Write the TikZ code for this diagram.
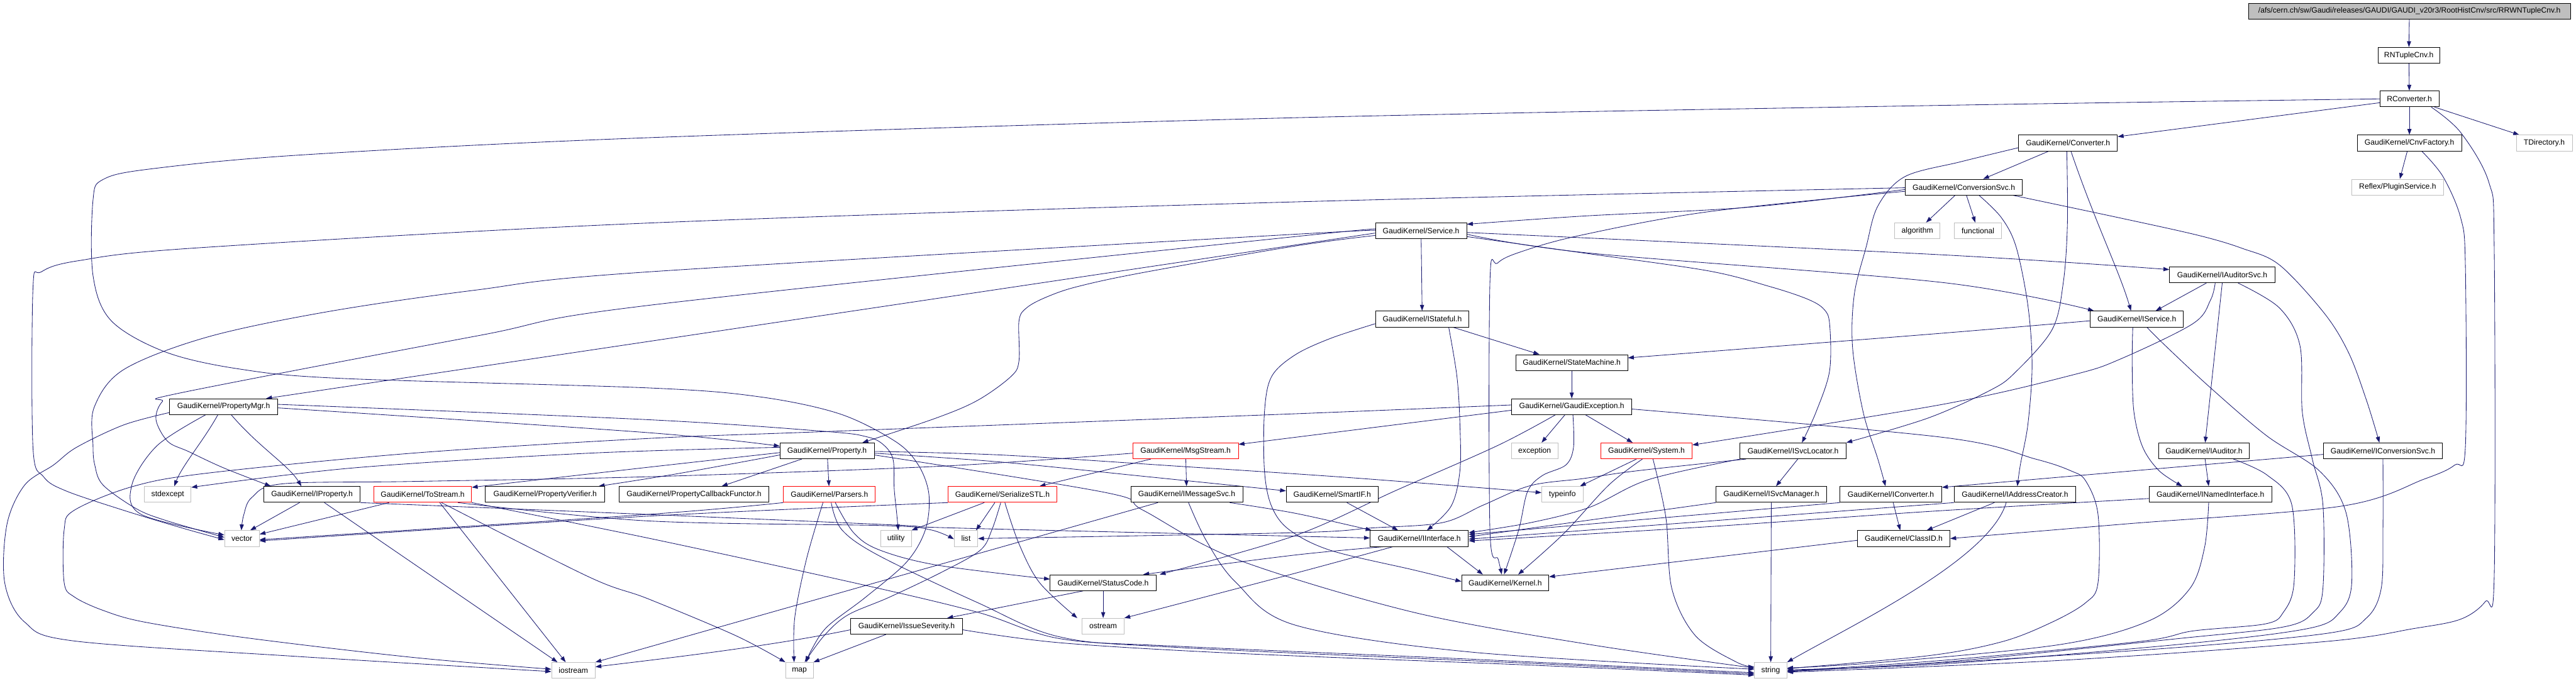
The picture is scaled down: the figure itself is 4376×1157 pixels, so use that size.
\documentclass[tikz,border=0pt]{standalone}
\usepackage{fontspec}
\setmainfont{Liberation Sans}
\usetikzlibrary{arrows.meta}
\definecolor{eb}{HTML}{191970}
\definecolor{gb}{HTML}{BFBFBF}
\pgfdeclarelayer{bg}
\pgfsetlayers{bg,main}
\tikzset{
  bx/.style={draw=black, fill=white, line width=0.9pt, minimum height=27pt, inner xsep=4pt, inner ysep=0pt, font=\fontsize{13}{15}\selectfont, text=black, minimum width=#1},
  ext/.style={bx=#1, draw=gb},
  rbx/.style={bx=#1, draw=red},
  ed/.style={draw=eb, line width=0.9pt, -{Triangle[length=10pt,width=7pt]}}
}
\newcommand{\edgeplot}[1]{\draw[ed] plot[smooth,tension=0.55] coordinates {#1};}
\begin{document}
\begin{tikzpicture}[x=1pt,y=-1pt]
\useasboundingbox (0,0) rectangle (4376,1157);
% nodes
\node[bx=547pt, fill=gb] (root) at (4093,19) {/afs/cern.ch/sw/Gaudi/releases/GAUDI/GAUDI\_v20r3/RootHistCnv/src/RRWNTupleCnv.h};
\node[bx=105pt] (rnt) at (4092,94) {RNTupleCnv.h};
\node[bx=100pt] (rconv) at (4093,168) {RConverter.h};
\node[bx=168pt] (conv) at (3513,243) {GaudiKernel/Converter.h};
\node[bx=177pt] (cnvf) at (4093,243) {GaudiKernel/CnvFactory.h};
\node[ext=95pt] (tdir) at (4322,243) {TDirectory.h};
\node[bx=199pt] (csvc) at (3336,318) {GaudiKernel/ConversionSvc.h};
\node[ext=156pt] (reflex) at (4073,318) {Reflex/PluginService.h};
\node[bx=155pt] (svc) at (2414,392) {GaudiKernel/Service.h};
\node[ext=77pt] (algo) at (3257,392) {algorithm};
\node[ext=80pt] (func) at (3360,392) {functional};
\node[bx=179pt] (iaudsvc) at (3775,467) {GaudiKernel/IAuditorSvc.h};
\node[bx=159pt] (istate) at (2416,542) {GaudiKernel/IStateful.h};
\node[bx=158pt] (iserv) at (3630,542) {GaudiKernel/IService.h};
\node[bx=190pt] (sm) at (2670,616) {GaudiKernel/StateMachine.h};
\node[bx=204pt] (gex) at (2670,691) {GaudiKernel/GaudiException.h};
\node[bx=184pt] (pmgr) at (380,691) {GaudiKernel/PropertyMgr.h};
\node[bx=160pt] (prop) at (1405,766) {GaudiKernel/Property.h};
\node[rbx=179pt] (msg) at (2014,766) {GaudiKernel/MsgStream.h};
\node[ext=79pt] (exc) at (2607,766) {exception};
\node[rbx=155pt] (sys) at (2797,766) {GaudiKernel/System.h};
\node[bx=180pt] (isl) at (3046,766) {GaudiKernel/ISvcLocator.h};
\node[bx=154pt] (iaud) at (3744,766) {GaudiKernel/IAuditor.h};
\node[bx=202pt] (icsvc) at (4048,766) {GaudiKernel/IConversionSvc.h};
\node[ext=79pt] (stdx) at (285,840) {stdexcept};
\node[bx=164pt] (iprop) at (530,840) {GaudiKernel/IProperty.h};
\node[rbx=166pt] (tostr) at (718,840) {GaudiKernel/ToStream.h};
\node[bx=203pt] (pver) at (926,840) {GaudiKernel/PropertyVerifier.h};
\node[bx=255pt] (pcb) at (1179,840) {GaudiKernel/PropertyCallbackFunctor.h};
\node[rbx=156pt] (pars) at (1409,840) {GaudiKernel/Parsers.h};
\node[rbx=185pt] (ser) at (1703,840) {GaudiKernel/SerializeSTL.h};
\node[bx=190pt] (imsg) at (2016,840) {GaudiKernel/IMessageSvc.h};
\node[bx=156pt] (smart) at (2263,840) {GaudiKernel/SmartIF.h};
\node[ext=70pt] (tinfo) at (2654,840) {typeinfo};
\node[bx=188pt] (ismgr) at (3009,840) {GaudiKernel/ISvcManager.h};
\node[bx=173pt] (iconv) at (3212,840) {GaudiKernel/IConverter.h};
\node[bx=207pt] (iaddr) at (3423,840) {GaudiKernel/IAddressCreator.h};
\node[bx=209pt] (inamed) at (3755,840) {GaudiKernel/INamedInterface.h};
\node[ext=59pt] (vec) at (411,915) {vector};
\node[ext=52pt] (util) at (1522,915) {utility};
\node[ext=40pt] (lst) at (1641,915) {list};
\node[bx=167pt] (iint) at (2411,915) {GaudiKernel/IInterface.h};
\node[bx=157pt] (clsid) at (3234,915) {GaudiKernel/ClassID.h};
\node[bx=180pt] (sc) at (1874,990) {GaudiKernel/StatusCode.h};
\node[bx=148pt] (kern) at (2557,990) {GaudiKernel/Kernel.h};
\node[bx=190pt] (isev) at (1540,1064) {GaudiKernel/IssueSeverity.h};
\node[ext=71pt] (ost) at (1874,1064) {ostream};
\node[ext=74pt] (iost) at (974,1139) {iostream};
\node[ext=47pt] (map) at (1358,1139) {map};
\node[ext=55pt] (str) at (3008,1139) {string};
% edges
\begin{pgfonlayer}{bg}
\fill[white] (0,0) rectangle (4376,1157);
\draw[ed] (root) -- (rnt);
\draw[ed] (rnt) -- (rconv);
\draw[ed] (rconv) -- (conv);
\draw[ed] (rconv) -- (cnvf);
\draw[ed] (rconv) -- (tdir);
\edgeplot{([xshift=37pt]rconv.south) (4180,225) (4228,310) (4237,420) (4237,980) (4222,1022) (4180,1052) (4100,1068) (3950,1090) (3500,1122) ([yshift=-3pt]str.east)}
\edgeplot{(rconv.west) (3300,179) (2200,200) (1100,234) (516,263) (256,287) (175,305) (158,340) (158,468) (189,545) (281,598) (407,627) (582,643) (1100,659) (1289,674) (1426,703) (1521,750) (1560,790) (1578,840) (1572,900) (1540,955) (1470,1015) (1405,1065) (1378,1105) ([xshift=12pt]map.north)}
% Converter
\draw[ed] (conv) -- (csvc);
\edgeplot{([yshift=-8pt]conv.west) (3330,275) (3236,300) (3190,350) (3170,420) (3150,500) (3147,590) (3165,700) (3190,780) ([xshift=-9pt]iconv.north)}
\edgeplot{([xshift=-2pt]conv.south) (3512,380) (3505,480) (3486,560) (3423,633) (3381,663) (3276,710) (isl.north east)}
\draw[ed] ([xshift=5pt]conv.south) .. controls (3560,380) and (3600,460) .. ([xshift=-10pt]iserv.north);
% CnvFactory
\draw[ed] (cnvf) -- (reflex);
\edgeplot{([xshift=21pt]cnvf.south) (4150,300) (4180,370) (4188,450) (4188,760) (4170,790) (4118,814) (3977,860) (3613,890) (clsid.east)}
% ConversionSvc
\edgeplot{([yshift=-4pt]csvc.west) (2972,352) (2691,367) ([yshift=11pt]svc.east)}
\draw[ed] (csvc) -- (algo);
\draw[ed] (csvc) -- (func);
\edgeplot{([yshift=-1pt]csvc.west) (2200,343) (1100,379) (337,421) (133,443) (70,462) (56,490) (56,760) (74,810) (112,834) (210,867) (309,897) ([yshift=-2pt]vec.west)}
\edgeplot{([yshift=-7pt]csvc.west) (2900,360) (2684,400) (2586,427) (2544,447) (2531,480) (2531,900) (2545,950) ([xshift=-6pt]kern.north)}
\edgeplot{([xshift=26pt]csvc.south) (3400,370) (3425,420) (3445,520) (3452,620) (3445,720) (3432,790) ([xshift=4pt]iaddr.north)}
\edgeplot{([xshift=84pt]csvc.south) (3600,370) (3735,400) (3809,422) (3872,450) (3949,533) (3990,600) (4020,680) ([xshift=-6pt]icsvc.north)}
% Service
\draw[ed] (svc) -- (istate);
\draw[ed] ([yshift=-4pt]svc.west) -- ([xshift=72pt]pmgr.north);
\edgeplot{([yshift=-8pt]svc.west) (2200,418) (1942,463) (1830,487) (1777,505) (1744,523) (1731,545) (1731,613) (1717,640) (1661,680) (1591,710) ([xshift=60pt]prop.north)}
\edgeplot{([yshift=2pt]svc.west) (2200,402) (1100,519) (814,570) (309,667) (276,682) (265,713) (285,750) (320,767) (380,795) ([xshift=-70pt]iprop.north)}
\edgeplot{(svc.west) (2200,398) (1100,462) (807,493) (554,530) (351,573) (210,628) (160,692) (158,757) (161,790) (175,824) (231,864) (281,884) ([yshift=2pt]vec.west)}
\edgeplot{([yshift=-6pt]svc.east) (2700,430) (3300,480) ([xshift=-73pt]iserv.north)}
\edgeplot{([yshift=-3pt]svc.east) (3300,433) ([yshift=9pt]iaudsvc.west)}
\edgeplot{([yshift=-10pt]svc.east) (2691,430) (2901,460) (3007,487) (3070,508) (3098,525) (3108,550) (3108,630) (3085,700) ([xshift=15pt]isl.north)}
% IAuditorSvc
\draw[ed] ([xshift=-27pt]iaudsvc.south) -- ([xshift=32pt]iserv.north);
\draw[ed] (iaudsvc.south) -- ([xshift=2pt]iaud.north);
\edgeplot{([xshift=-12pt]iaudsvc.south) (3755,510) (3725,550) (3602,610) (3521,637) (3300,687) ([yshift=10pt]sys.east)}
\edgeplot{([xshift=27pt]iaudsvc.south) (3872,523) (3907,587) (3911,700) (3928,780) (3946,857) (3946,1000) (3930,1040) (3880,1065) (3700,1085) (3300,1125) ([yshift=-1pt]str.east)}
% IStateful
\draw[ed] ([xshift=52pt]istate.south) -- ([xshift=-55pt]sm.north);
\edgeplot{([xshift=45pt]istate.south) (2475,640) (2480,720) (2480,800) (2465,860) ([xshift=13pt]iint.north)}
\edgeplot{([yshift=-8pt]istate.west) (2260,575) (2200,603) (2160,640) (2148,700) (2148,800) (2160,860) (2190,900) (2260,935) (2400,968) ([yshift=2pt]kern.west)}
% IService
\edgeplot{([xshift=-7pt]iserv.south) (3622,620) (3625,700) (3640,760) (3668,800) ([xshift=-48pt]inamed.north)}
\edgeplot{([xshift=17pt]iserv.south) (3676,585) (3753,657) (3850,740) (3940,800) (3985,870) (3995,990) (3975,1040) (3920,1068) (3700,1095) (3300,1128) ([yshift=1pt]str.east)}
\edgeplot{([yshift=-3pt]iserv.west) (3276,568) ([yshift=8pt]sm.east)}
% StateMachine / GaudiException
\draw[ed] (sm) -- (gex);
\draw[ed] (gex) -- (exc);
\draw[ed] (gex) -- (sys);
\edgeplot{([xshift=2pt]gex.south) (2673,760) (2660,790) (2620,808) (2595,835) (2580,900) ([xshift=-2pt]kern.north)}
\edgeplot{([xshift=-28pt]gex.south) (2544,757) (2372,833) (2200,910) ([xshift=96pt]sc.north)}
\edgeplot{([yshift=-4pt]gex.east) (3300,743) (3458,780) (3518,800) (3543,817) (3564,874) (3564,990) (3543,1024) (3486,1057) (3402,1090) (3276,1114) ([yshift=3pt]str.east)}
\edgeplot{([yshift=-6pt]gex.west) (2200,743) ([yshift=11pt]msg.east)}
\edgeplot{([yshift=3pt]gex.west) (2200,703) (1409,733) (1100,745) (700,770) (351,804) (224,827) (126,867) (109,900) (109,990) (126,1014) (175,1037) (246,1057) (421,1084) (702,1117) ([yshift=2pt]iost.west)}
% PropertyMgr
\edgeplot{([yshift=-2pt]pmgr.east) (1100,735) ([yshift=8pt]prop.west)}
\draw[ed] ([xshift=13pt]pmgr.south) .. controls (440,760) and (490,790) .. ([xshift=-18pt]iprop.north);
\draw[ed] ([xshift=-10pt]pmgr.south) .. controls (345,750) and (310,790) .. ([xshift=11pt]stdx.north);
\edgeplot{([xshift=-31pt]pmgr.south) (267,757) (224,824) (240,874) ([yshift=6pt]vec.west)}
\edgeplot{([yshift=-10pt]pmgr.west) (210,722) (130,760) (91,790) (42,824) (12,890) (8,990) (42,1057) (126,1089) (500,1115) ([yshift=-2pt]iost.west)}
\edgeplot{([yshift=4pt]pmgr.east) (1100,713) (1402,733) (1472,742) (1500,755) (1517,780) (1519,830) (1523,870) ([xshift=4pt]util.north)}
% Property
\edgeplot{([yshift=-3pt]prop.west) (1100,794) ([yshift=12pt]tostr.east)}
\edgeplot{([yshift=-7pt]prop.west) (1150,805) ([xshift=91pt]pver.north)}
\draw[ed] ([xshift=-43pt]prop.south) -- ([xshift=47pt]pcb.north);
\draw[ed] (prop) -- (pars);
\edgeplot{([yshift=-4pt]prop.east) (1700,785) (1950,810) ([yshift=6pt]smart.west)}
\edgeplot{([yshift=6pt]prop.west) (1000,770) (600,795) ([yshift=12pt]stdx.east)}
\edgeplot{([yshift=-7pt]prop.east) (1879,837) (1942,867) (2100,950) (2400,1040) (2700,1095) ([yshift=4pt]str.west)}
\edgeplot{([yshift=-1pt]prop.east) (1700,773) (2000,792) (2300,812) ([yshift=3pt]tinfo.west)}
% MsgStream
\draw[ed] (msg) -- (imsg);
\draw[ed] ([xshift=-59pt]msg.south) -- ([xshift=63pt]ser.north);
\edgeplot{([yshift=-4pt]msg.west) (1600,792) (1100,810) (700,818) (480,822) (428,845) (414,875) ([xshift=-1pt]vec.north)}
% System
\draw[ed] ([xshift=-17pt]sys.south) -- ([xshift=30pt]tinfo.north);
\edgeplot{([xshift=-7pt]sys.south) (2733,824) (2656,907) ([xshift=22pt]kern.north)}
\edgeplot{([xshift=11pt]sys.south) (2830,880) (2840,1000) (2880,1080) (2950,1125) ([yshift=6pt]str.west)}
% ISvcLocator
\draw[ed] ([xshift=8pt]isl.south) -- ([xshift=8pt]ismgr.north);
\edgeplot{([xshift=-90pt]isl.south) (2800,815) (2700,862) (2600,888) ([yshift=10pt]iint.east)}
\edgeplot{([xshift=-80pt]isl.south) (2780,800) (2690,813) (2600,825) (2520,858) (2450,888) (2330,897) (2200,905) (lst.east)}
% IAuditor
\draw[ed] (iaud) -- ([xshift=-3pt]inamed.north);
\edgeplot{([xshift=50pt]iaud.south) (3851,807) (3893,857) (3897,990) (3879,1040) (3848,1060) (3725,1072) (3634,1090) (3300,1122) ([yshift=-1pt]str.east)}
% IConversionSvc
\draw[ed] ([yshift=-6pt]icsvc.west) -- ([yshift=12pt]iconv.east);
\edgeplot{(icsvc.south) (4048,900) (4045,1000) (4020,1050) (3960,1075) (3700,1100) (3300,1126) ([yshift=-2pt]str.east)}
% ToStream
\draw[ed] (tostr) -- (vec);
\draw[ed] ([xshift=29pt]tostr.south) -- ([xshift=-13pt]iost.north);
\edgeplot{([xshift=32pt]tostr.south) (1000,980) (1100,1017) (1250,1080) (map.north west)}
\edgeplot{(tostr.south east) (1100,914) (1450,990) (1660,1040) (1800,1085) (2000,1098) (2500,1120) ([yshift=-4pt]str.west)}
\edgeplot{([xshift=60pt]tostr.south) (1100,885) (1500,893) (1580,900) ([yshift=-1pt]lst.west)}
% IProperty
\draw[ed] ([xshift=-21pt]iprop.south) -- ([xshift=14pt]vec.north);
\draw[ed] ([xshift=21pt]iprop.south) -- ([xshift=-27pt]iost.north);
\edgeplot{(iprop.south east) (1100,874) (1521,892) (1620,897) (2200,911) ([yshift=1pt]iint.west)}
% Parsers
\edgeplot{(pars.south west) (1100,874) ([yshift=-2pt]vec.east)}
\edgeplot{([xshift=-11pt]pars.south) (1370,950) (1350,1050) ([xshift=-9pt]map.north)}
\edgeplot{([xshift=3pt]pars.south) (1430,900) (1493,944) (1661,1024) (1800,1082) (2000,1100) (2600,1127) ([yshift=-6pt]str.west)}
\edgeplot{([xshift=10pt]pars.south) (1450,905) (1493,934) (1591,960) ([yshift=6pt]sc.west)}
% SerializeSTL
\draw[ed] ([xshift=-31pt]ser.south) -- (util.north east);
\draw[ed] ([xshift=-13pt]ser.south) -- ([xshift=17pt]lst.north);
\edgeplot{([xshift=-3pt]ser.south) (1685,900) (1665,935) (1600,972) (1510,1015) (1440,1045) (1400,1080) ([xshift=9pt]map.north)}
\edgeplot{([xshift=4pt]ser.south) (1731,924) (1766,990) ([xshift=-44pt]ost.north)}
\edgeplot{(ser.south west) (1100,877) ([yshift=-4pt]vec.east)}
% IMessageSvc
\edgeplot{([xshift=73pt]imsg.south) (2200,872) ([xshift=-81pt]iint.north)}
\draw[ed] ([xshift=-49pt]imsg.south) -- (iost.north east);
\edgeplot{([xshift=3pt]imsg.south) (2050,920) (2100,990) (2200,1062) (2500,1108) ([yshift=2pt]str.west)}
% SmartIF, ISvcManager, IConverter, IAddressCreator, INamedInterface
\draw[ed] ([xshift=25pt]smart.south) -- ([xshift=-36pt]iint.north);
\draw[ed] (ismgr.south west) -- ([yshift=3pt]iint.east);
\draw[ed] (ismgr) -- (str);
\draw[ed] (iconv.south west) -- ([yshift=7pt]iint.east);
\draw[ed] ([xshift=4pt]iconv.south) -- ([xshift=-6pt]clsid.north);
\draw[ed] (iaddr.south west) -- ([yshift=-1pt]iint.east);
\draw[ed] ([xshift=-35pt]iaddr.south) -- ([xshift=39pt]clsid.north);
\draw[ed] ([xshift=-15pt]iaddr.south) .. controls (3380,950) and (3150,1060) .. (str.north east);
\edgeplot{([yshift=-7pt]inamed.west) (3276,869) (2900,895) ([yshift=-4pt]iint.east)}
\edgeplot{([xshift=-3pt]inamed.south) (3745,930) (3720,1000) (3650,1055) (3500,1095) (3200,1125) ([yshift=4pt]str.east)}
% ClassID, IInterface, StatusCode, IssueSeverity
\draw[ed] ([yshift=-3pt]clsid.west) -- ([yshift=10pt]kern.east);
\draw[ed] ([xshift=47pt]iint.south) -- ([xshift=-38pt]kern.north);
\edgeplot{([xshift=-61pt]iint.south) (2200,943) ([xshift=68pt]sc.north)}
\edgeplot{([xshift=-45pt]iint.south) (2200,974) (ost.north east)}
\draw[ed] (sc) -- (ost);
\draw[ed] ([xshift=-34pt]sc.south) -- ([xshift=69pt]isev.north);
\draw[ed] ([yshift=-6pt]isev.west) .. controls (1300,1100) and (1100,1122) .. ([yshift=6pt]iost.east);
\draw[ed] ([xshift=-35pt]isev.south) -- (map.north east);
\edgeplot{([yshift=-6pt]isev.east) (1800,1092) (2100,1110) (2600,1130) ([yshift=-8pt]str.west)}
\end{pgfonlayer}
\end{tikzpicture}
\end{document}
